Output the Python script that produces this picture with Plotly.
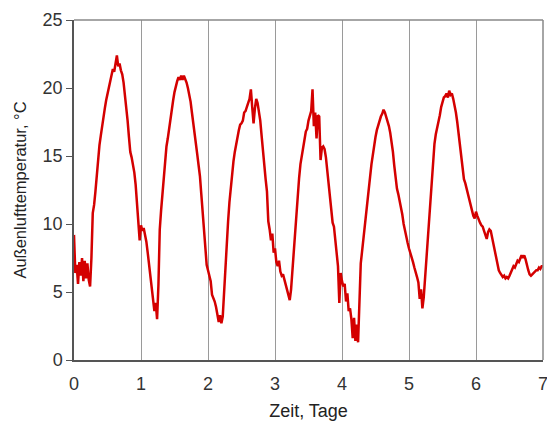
import plotly.graph_objects as go

tag0 = [9.2, 6.4, 7.0, 5.6, 7.2, 6.2, 7.5, 5.8, 7.3, 6.0,
        7.1, 5.9, 5.4, 7.5, 10.8, 11.4, 12.4, 13.7, 14.8, 15.8,
        16.5, 17.3, 17.9, 18.5, 19.1, 19.6, 20.0, 20.4, 20.9, 21.4,
        21.2, 22.0, 22.4, 21.6, 21.8, 21.3, 21.0, 20.4, 19.6, 18.7,
        17.6, 16.4, 15.3, 14.9, 14.4, 13.8, 12.9, 11.6, 9.8, 8.8]
tag1 = [9.9, 9.5, 9.7, 9.2, 8.7, 7.9, 7.0, 6.2, 5.0, 4.3,
        3.6, 4.2, 3.0, 5.5, 9.6, 11.0, 12.3, 13.6, 14.8, 15.7,
        16.3, 17.1, 17.8, 18.5, 19.1, 19.7, 20.2, 20.5, 20.8, 20.6,
        20.9, 20.6, 20.9, 20.7, 20.4, 20.0, 19.6, 19.0, 18.2, 17.5,
        16.7, 15.9, 15.1, 14.3, 13.5, 12.2, 10.9, 9.6, 8.4, 7.0]
tag2 = [6.6, 6.2, 5.8, 4.8, 4.6, 4.3, 3.9, 3.4, 2.8, 3.3,
        2.7, 3.2, 5.2, 7.0, 8.6, 10.2, 11.6, 12.8, 13.9, 14.6,
        15.3, 15.9, 16.4, 16.9, 17.3, 17.4, 17.6, 18.2, 18.3, 18.7,
        18.9, 19.2, 19.9, 18.6, 17.4, 18.5, 19.2, 18.9, 18.3, 17.6,
        16.5, 15.2, 14.2, 13.3, 12.4, 10.2, 9.6, 8.8, 9.3, 7.9]
tag3 = [8.2, 7.2, 6.9, 7.3, 6.5, 6.2, 6.3, 5.9, 5.4, 5.1,
        4.6, 4.4, 5.2, 6.6, 8.3, 9.9, 11.0, 12.3, 13.4, 14.4,
        15.1, 15.7, 16.2, 16.8, 17.0, 17.6, 18.0, 18.3, 19.9, 17.2,
        18.2, 16.3, 18.0, 17.9, 14.7, 15.6, 15.7, 15.5, 14.9, 13.9,
        12.6, 11.6, 10.9, 10.1, 9.8, 8.9, 7.6, 6.9, 4.2, 6.4]
tag4 = [5.8, 5.4, 5.6, 4.3, 4.9, 3.6, 3.8, 3.0, 1.6, 3.1,
        1.4, 2.6, 1.3, 4.9, 7.1, 8.0, 9.0, 9.8, 10.8, 11.7,
        12.6, 13.5, 14.4, 15.1, 15.9, 16.4, 16.9, 17.3, 17.6, 17.9,
        18.1, 18.4, 18.2, 17.9, 17.6, 17.2, 16.7, 16.1, 15.3, 14.3,
        13.3, 12.6, 12.2, 11.7, 11.3, 10.7, 10.0, 9.5, 8.9, 8.6]
tag5 = [8.2, 7.9, 7.6, 7.2, 6.8, 6.5, 6.1, 5.7, 4.5, 5.2,
        3.8, 4.6, 6.0, 7.6, 9.0, 10.3, 11.8, 13.3, 14.7, 15.9,
        16.6, 17.0, 17.6, 18.0, 18.6, 18.9, 19.3, 19.4, 19.6, 19.3,
        19.8, 19.5, 19.6, 19.2, 18.8, 18.2, 17.5, 16.6, 15.6, 14.6,
        13.9, 13.3, 13.0, 12.6, 12.1, 11.7, 11.2, 10.9, 10.6, 10.4]
tag6 = [10.9, 10.6, 10.3, 10.1, 9.9, 9.8, 9.5, 9.2, 8.9, 9.4,
        9.6, 9.5, 9.0, 8.6, 8.0, 7.5, 7.0, 6.6, 6.4, 6.2,
        6.1, 6.2, 6.0, 6.1, 6.0, 6.2, 6.4, 6.6, 6.9, 6.8,
        7.1, 7.3, 7.2, 7.5, 7.7, 7.5, 7.7, 7.4, 6.9, 6.6,
        6.3, 6.2, 6.3, 6.4, 6.5, 6.6, 6.6, 6.8, 6.7, 6.9, 6.9]

temperatur = tag0 + tag1 + tag2 + tag3 + tag4 + tag5 + tag6
schritt_tage = 0.02
zeit = [round(i * schritt_tage, 2) for i in range(len(temperatur))]

x_ticks = [0, 1, 2, 3, 4, 5, 6, 7]
y_ticks = [0, 5, 10, 15, 20, 25]

fig = go.Figure()
fig.add_trace(go.Scatter(
    x=zeit, y=temperatur, mode="lines",
    line=dict(color="#d40000", width=2.5),
    showlegend=False, hoverinfo="x+y",
))

font_main = "Liberation Sans, Arial, sans-serif"

fig.update_layout(
    width=547, height=430,
    margin=dict(l=74, r=4, t=20, b=70),
    paper_bgcolor="white", plot_bgcolor="white",
    font=dict(family=font_main, color="#333333", size=16),
    xaxis=dict(
        range=[0, 7], tickvals=x_ticks, ticktext=[str(v) for v in x_ticks],
        showgrid=True, gridcolor="#9a9a9a", gridwidth=1,
        showline=True, linecolor="#555555", linewidth=1.5, mirror=False,
        ticks="", ticklabelstandoff=7, zeroline=False,
        ticklabeloverflow="allow", automargin=False,
        title=dict(text="Zeit, Tage", font=dict(size=18, color="#222222"), standoff=11),
        tickfont=dict(size=18, color="#333333"),
    ),
    yaxis=dict(
        range=[0, 25], tickvals=y_ticks, ticktext=[str(v) for v in y_ticks],
        showgrid=False,
        showline=True, linecolor="#555555", linewidth=1.5,
        ticks="outside", ticklen=6, tickcolor="#555555", tickwidth=1,
        zeroline=False, automargin=False,
        title=dict(text="Außenlufttemperatur, °C", font=dict(size=16.5, color="#222222"), standoff=12),
        tickfont=dict(size=18, color="#333333"),
    ),
    shapes=[
        dict(type="line", xref="paper", yref="paper", x0=0, x1=1, y0=1, y1=1,
             line=dict(color="#888888", width=1.5)),
        dict(type="line", xref="paper", yref="paper", x0=1, x1=1, y0=0, y1=1,
             line=dict(color="#888888", width=1.5)),
    ],
)

fig.write_html("out.html")
